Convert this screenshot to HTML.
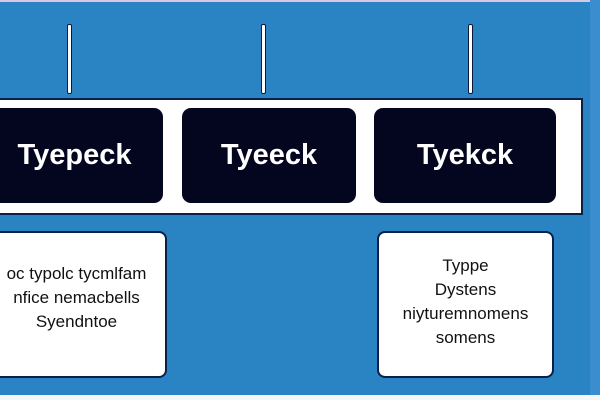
<!DOCTYPE html>
<html><head><style>
body{margin:0;width:600px;height:400px;overflow:hidden;background:#2a84c4;font-family:"Liberation Sans",sans-serif;position:relative}
.a{position:absolute}
.v{position:absolute;top:24px;width:3px;height:68px;background:#fff;border:1px solid #0b1a3a;border-radius:2px}
.bar{left:-2px;top:98px;width:585px;height:117px;background:#fff;border:2px solid #0b2048;box-sizing:border-box}
.d{top:108px;height:95px;background:#03061e;border-radius:9px;color:#fff;font-weight:bold;font-size:29px;display:flex;align-items:center;justify-content:center}
.w{top:231px;height:147px;background:#fff;border:2px solid #0b2048;border-radius:8px;box-sizing:border-box;color:#111;font-size:17px;line-height:24px;text-align:center;display:flex;align-items:center;justify-content:center}
</style></head><body>
<div class="a" style="left:0;top:0;width:600px;height:2px;background:#d8c8e8"></div>
<div class="a" style="left:590px;top:0;width:10px;height:400px;background:#3a8ed0"></div>
<div class="v" style="left:67px"></div>
<div class="v" style="left:261px"></div>
<div class="v" style="left:468px"></div>
<div class="a bar"></div>
<div class="a d" style="left:-14px;width:177px">Tyepeck</div>
<div class="a d" style="left:182px;width:174px">Tyeeck</div>
<div class="a d" style="left:374px;width:182px">Tyekck</div>
<div class="a w" style="left:-14px;width:181px;padding-bottom:14px;white-space:nowrap">oc typolc tycmlfam<br>nfice nemacbells<br>Syendntoe</div>
<div class="a w" style="left:377px;width:177px;padding-bottom:6px">Typpe<br>Dystens<br>niyturemnomens<br>somens</div>
<div class="a" style="left:0;top:395px;width:600px;height:5px;background:#f4f6f8"></div>
</body></html>
